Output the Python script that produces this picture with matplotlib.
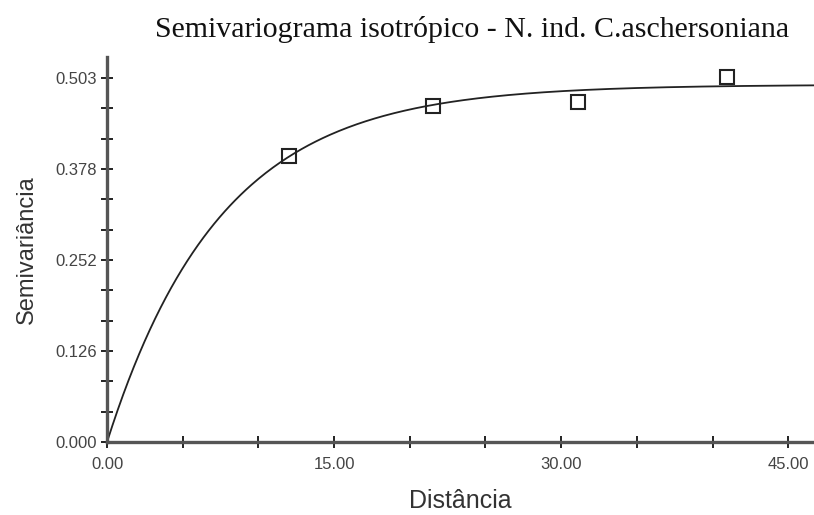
import numpy as np
import matplotlib
matplotlib.use("Agg")
import matplotlib.pyplot as plt
from matplotlib.ticker import FixedLocator

# Experimental semivariogram (lag distance, semivariance)
lag_dist = [12.03, 21.55, 31.13, 40.98]
semivar = [0.395, 0.464, 0.470, 0.504]

# Fitted exponential model
nugget = 0.0
sill = 0.494
model_range = 22.5

x_major = [0.0, 15.0, 30.0, 45.0]
x_major_labels = ["0.00", "15.00", "30.00", "45.00"]
y_top_label = 0.503
y_major_labels = ["0.000", "0.126", "0.252", "0.378", "0.503"]

fig = plt.figure(figsize=(8.14, 5.15), dpi=100)
ax = fig.add_axes([0.1315, 0.1417, 0.8685, 0.7473])

h = np.linspace(0, 47, 400)
gamma = nugget + (sill - nugget) * (1 - np.exp(-3 * h / model_range))
ax.plot(h, gamma, color="#222222", lw=1.3, zorder=2)
ax.plot(lag_dist, semivar, ls="none", marker="s", ms=10, mfc="none",
        mec="#222222", mew=1.5, zorder=3)

ax.set_xlim(0, 46.7)
ax.set_ylim(0, 0.532)

ax.xaxis.set_major_locator(FixedLocator(x_major))
ax.xaxis.set_minor_locator(FixedLocator(np.arange(0, 46, 5.0)))
ax.set_xticklabels(x_major_labels)
y_major = [y_top_label * k / 4 for k in range(5)]
ax.yaxis.set_major_locator(FixedLocator(y_major))
ax.yaxis.set_minor_locator(FixedLocator([y_top_label * k / 12 for k in range(13)]))
ax.set_yticklabels(y_major_labels)

for side in ("top", "right"):
    ax.spines[side].set_visible(False)
for side in ("left", "bottom"):
    ax.spines[side].set_color("#555555")
    ax.spines[side].set_linewidth(2.4)

ax.tick_params(which="both", direction="inout", length=8, width=1.3,
               color="#111111", labelsize=12, labelcolor="#444444")
ax.tick_params(axis="x", which="major", pad=7)
ax.tick_params(axis="y", which="major", pad=3)

ax.set_xlabel("Distância", fontsize=18, family="Liberation Sans",
              color="#333333", labelpad=12)
ax.set_ylabel("Semivariância", fontsize=17, family="Liberation Sans",
              color="#333333", labelpad=13)
for lbl in ax.get_xticklabels() + ax.get_yticklabels():
    lbl.set_family("Liberation Sans")

fig.text(0.5805, 1 - 37 / 515, "Semivariograma isotrópico - N. ind. C.aschersoniana",
         ha="center", va="baseline", fontsize=21.5, family="Liberation Serif",
         color="#111111")

fig.savefig("out.png", dpi=100)
